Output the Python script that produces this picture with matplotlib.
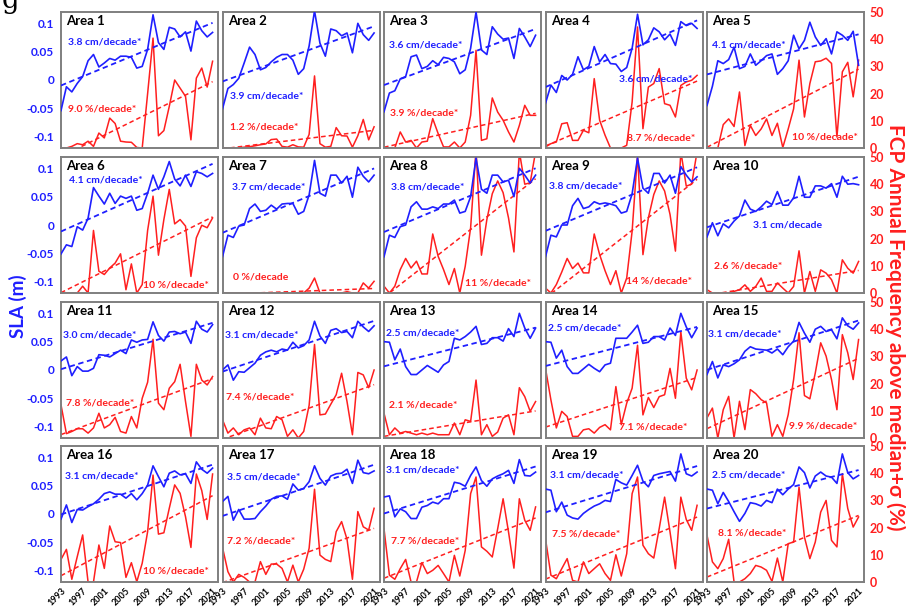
import numpy as np
import matplotlib
matplotlib.use("Agg")
import matplotlib.pyplot as plt

# ---------------- data ----------------
years = list(range(1993, 2022))
xtick_years = [1993, 1997, 2001, 2005, 2009, 2013, 2017, 2021]
area_names = [f"Area {i}" for i in range(1, 21)]

sla_a1 = [-0.054, -0.012, -0.021, -0.006, 0.006, 0.034, 0.045, 0.023, 0.030, 0.038, 0.035, 0.042, 0.042, 0.040, 0.021, 0.024, 0.054, 0.115, 0.066, 0.054, 0.093, 0.090, 0.076, 0.085, 0.051, 0.104, 0.087, 0.076, 0.084]
fcp_a1 = [0, 0, 0.6, 1.6, 1.2, 2.5, 0.6, 5.5, 3.7, 11, 9, 2.5, 2.2, 2.1, 0.2, 0, 20, 40.4, 4.5, 6.4, 15.3, 25, 22, 19, 3, 25.7, 29.4, 22.4, 31.9]
sla_a2 = [-0.051, -0.015, -0.008, 0.003, 0.030, 0.058, 0.045, 0.018, 0.022, 0.032, 0.040, 0.045, 0.045, 0.035, 0.010, 0.020, 0.060, 0.122, 0.065, 0.042, 0.090, 0.087, 0.078, 0.083, 0.048, 0.100, 0.080, 0.070, 0.083]
fcp_a2 = [0, 0, 0, 0, 0.3, 0.5, 0.8, 1.2, 1.5, 3.1, 3.3, 0.6, 0.3, 1.2, 0.4, 0.3, 5, 26.5, 1.6, 0.3, 0.6, 7.5, 4.5, 4.4, 0.3, 4.5, 10.5, 3, 7.8]
sla_a3 = [-0.056, -0.023, -0.019, 0.002, 0.006, 0.041, 0.044, 0.020, 0.024, 0.034, 0.027, 0.040, 0.038, 0.032, 0.011, 0.018, 0.056, 0.120, 0.053, 0.045, 0.094, 0.081, 0.072, 0.074, 0.038, 0.091, 0.076, 0.059, 0.079]
fcp_a3 = [0, 0, 0, 5.9, 2.2, 2.8, 0, 2.2, 2.5, 10.8, 5.3, 0.4, 0.4, 2.2, 0, 2.2, 12, 35.9, 2.8, 3.4, 18.4, 13.2, 10.2, 5.9, 2.2, 8.3, 15.7, 12, 12]
sla_a4 = [-0.041, -0.009, -0.022, 0.008, 0.000, 0.010, 0.041, 0.018, 0.024, 0.059, 0.032, 0.045, 0.029, 0.028, 0.015, 0.022, 0.056, 0.116, 0.062, 0.071, 0.092, 0.085, 0.071, 0.081, 0.061, 0.103, 0.096, 0.100, 0.091]
fcp_a4 = [0.4, 1.6, 2.2, 8.9, 9.3, 2.8, 2.8, 6.5, 5.6, 25.5, 10.2, 4.7, 0, 0, 0, 1, 16.9, 44.5, 7.1, 22.4, 23.7, 29.2, 16.3, 15.7, 11.4, 23, 24.3, 24.9, 26.7]
sla_a5 = [-0.045, -0.011, 0.034, 0.029, 0.036, 0.058, 0.020, 0.024, 0.046, 0.026, 0.034, 0.043, 0.046, 0.010, 0.020, 0.034, 0.079, 0.055, 0.070, 0.102, 0.076, 0.061, 0.073, 0.046, 0.085, 0.079, 0.070, 0.086, 0.026]
fcp_a5 = [0, 0, 0, 8.6, 10.7, 7.9, 20.6, 0.9, 8.3, 4.6, 7, 10.7, 4.6, 9.1, 0.2, 7, 14.4, 32.3, 11.4, 23.7, 31.7, 32, 33, 31.1, 4, 28, 31.5, 18.8, 32.3]
sla_a6 = [-0.051, -0.035, -0.038, -0.003, -0.009, 0.012, 0.066, 0.051, 0.037, 0.056, 0.038, 0.051, 0.047, 0.051, 0.026, 0.029, 0.056, 0.088, 0.063, 0.085, 0.112, 0.081, 0.069, 0.088, 0.068, 0.094, 0.091, 0.085, 0.091]
fcp_a6 = [0, 0, 0, 0, 2.5, 0, 23, 8, 6.8, 9.2, 11, 14.4, 1.2, 10.7, 0, 3.1, 23, 35.6, 13.9, 27, 38.1, 25.4, 27, 24.6, 6.1, 20.3, 24.9, 24, 27.6]
sla_a7 = [-0.056, -0.018, -0.022, -0.002, 0.000, 0.029, 0.037, 0.024, 0.026, 0.035, 0.028, 0.037, 0.038, 0.038, 0.019, 0.024, 0.053, 0.114, 0.056, 0.051, 0.088, 0.088, 0.074, 0.086, 0.049, 0.102, 0.086, 0.076, 0.088]
fcp_a7 = [0, 0, 0, 0, 0, 0, 0, 0, 0, 0, 0, 0, 0, 0, 0, 0, 1.8, 5.5, 0, 0, 0, 0, 0, 0.5, 0, 0, 3.7, 1.8, 4.3]
sla_a8 = [-0.056, -0.018, -0.022, -0.003, 0.000, 0.032, 0.041, 0.028, 0.028, 0.032, 0.029, 0.037, 0.037, 0.044, 0.021, 0.024, 0.050, 0.118, 0.063, 0.056, 0.088, 0.088, 0.076, 0.079, 0.050, 0.100, 0.088, 0.074, 0.088]
fcp_a8 = [2.5, 0, 2.5, 8.6, 12.7, 9.2, 11.7, 7, 7, 21.7, 13.5, 8.6, 3.1, 9, 0, 9.8, 24, 53, 13.9, 27, 36.5, 41.2, 36.9, 27.6, 15.1, 52, 40, 40.5, 52]
sla_a9 = [-0.056, -0.018, -0.021, 0.000, 0.000, 0.034, 0.047, 0.029, 0.032, 0.041, 0.037, 0.039, 0.037, 0.034, 0.021, 0.024, 0.055, 0.118, 0.065, 0.056, 0.091, 0.091, 0.074, 0.088, 0.056, 0.103, 0.088, 0.076, 0.085]
fcp_a9 = [1.8, 0, 3.1, 7.7, 12.7, 9, 11, 7.4, 7.4, 21.7, 14.1, 8.2, 3.1, 8.2, 0, 5.5, 22.7, 51, 14.1, 27.6, 36.2, 41.2, 37.5, 28.9, 15.4, 52, 39.3, 40, 52]
sla_a10 = [-0.021, 0.004, -0.019, 0.002, -0.005, 0.007, 0.016, 0.044, 0.028, 0.024, 0.032, 0.042, 0.036, 0.059, 0.035, 0.035, 0.048, 0.086, 0.049, 0.049, 0.069, 0.069, 0.065, 0.073, 0.049, 0.086, 0.072, 0.073, 0.071]
fcp_a10 = [1.2, 0, 0, 0, 0, 0.6, 1.2, 3, 0.6, 2.4, 5.5, 0.6, 0.6, 3.7, 1.8, 0, 2.4, 15.5, 0, 7.9, 0.6, 8.5, 7.3, 4.9, 0, 12.2, 9.1, 7.3, 11.6]
sla_a11 = [0.016, 0.023, -0.010, 0.006, -0.002, -0.002, 0.003, 0.027, 0.026, 0.023, 0.029, 0.035, 0.029, 0.053, 0.049, 0.053, 0.054, 0.085, 0.061, 0.051, 0.067, 0.068, 0.064, 0.067, 0.047, 0.086, 0.072, 0.067, 0.080]
fcp_a11 = [12.2, 1.6, 2.4, 3.4, 3.4, 1.8, 3.7, 9.1, 3.7, 4.9, 7.6, 2.4, 1.8, 7.9, 3.7, 14.6, 20.5, 36.3, 12.8, 10.4, 18.3, 20.7, 27.1, 13.4, 0.6, 27.1, 21.3, 19.5, 22.6]
sla_a12 = [0.000, 0.009, -0.018, -0.003, -0.004, 0.004, 0.012, 0.026, 0.032, 0.035, 0.032, 0.037, 0.035, 0.049, 0.039, 0.043, 0.053, 0.086, 0.060, 0.047, 0.070, 0.073, 0.066, 0.068, 0.057, 0.086, 0.076, 0.068, 0.078]
fcp_a12 = [6.7, 1.8, 3.7, 1.2, 3, 3.7, 1.2, 7.3, 3.7, 3.4, 7.9, 6.7, 0.6, 3, 0, 2.4, 12, 34.4, 8.5, 8.8, 12.4, 15.9, 23.8, 13.4, 1.2, 24.1, 23.2, 18.5, 25]
sla_a13 = [0.050, 0.049, 0.018, 0.037, 0.006, -0.008, -0.008, 0.000, 0.008, 0.002, -0.004, 0.009, 0.015, 0.056, 0.053, 0.059, 0.067, 0.077, 0.045, 0.047, 0.057, 0.057, 0.051, 0.073, 0.059, 0.100, 0.074, 0.056, 0.074]
fcp_a13 = [9.1, 1.2, 3.7, 1.8, 2.4, 1.8, 1.2, 1.8, 1.2, 1.8, 1.2, 1.2, 1.2, 5.5, 1.2, 6.7, 6.1, 21.3, 1.2, 4.9, 0.6, 2.2, 7.3, 8.5, 1.2, 18.5, 15.2, 9.8, 13.4]
sla_a14 = [0.050, 0.049, 0.021, 0.035, 0.006, -0.006, -0.006, 0.002, 0.010, 0.003, -0.003, 0.009, 0.012, 0.056, 0.056, 0.056, 0.067, 0.079, 0.047, 0.049, 0.059, 0.059, 0.053, 0.074, 0.061, 0.100, 0.076, 0.057, 0.074]
fcp_a14 = [25.6, 14, 3.7, 9.8, 7.9, 0.6, 0.6, 3, 3.4, 1.8, 3.9, 4.9, 3, 18.9, 4.9, 12.8, 18.3, 34.1, 8.5, 14.9, 11.2, 15.2, 15.9, 25.6, 14.6, 39, 22, 17.7, 25]
sla_a15 = [-0.008, 0.015, -0.014, 0.009, 0.006, 0.011, 0.018, 0.033, 0.041, 0.037, 0.036, 0.035, 0.030, 0.037, 0.027, 0.041, 0.051, 0.084, 0.065, 0.049, 0.072, 0.077, 0.068, 0.071, 0.055, 0.092, 0.078, 0.072, 0.083]
fcp_a15 = [7.4, 11, 0, 10.4, 15.3, 0, 13.5, 3.1, 17.8, 16.3, 14.1, 12.9, 0.6, 4.9, 0.6, 8.6, 21.5, 38.7, 15.6, 14.4, 23.9, 35, 30.1, 21.5, 10.4, 38, 31.3, 21.5, 36.2]
sla_a16 = [-0.009, 0.016, -0.015, 0.008, 0.007, 0.013, 0.018, 0.026, 0.036, 0.039, 0.035, 0.035, 0.028, 0.036, 0.025, 0.036, 0.051, 0.085, 0.066, 0.048, 0.072, 0.076, 0.069, 0.071, 0.054, 0.092, 0.079, 0.072, 0.081]
fcp_a16 = [8.3, 12, 1, 9.3, 17.3, 0, 0, 13.6, 5, 20.6, 14.8, 14.5, 1.7, 7.1, 0.1, 6.9, 18.5, 39.3, 17.6, 18.1, 27.1, 35.7, 32.6, 24, 12.7, 39.7, 33.6, 23, 39.7]
sla_a17 = [0.022, 0.031, -0.011, 0.008, -0.009, -0.009, -0.008, 0.004, 0.014, 0.026, 0.031, 0.032, 0.026, 0.053, 0.042, 0.045, 0.057, 0.085, 0.063, 0.051, 0.067, 0.071, 0.072, 0.079, 0.054, 0.095, 0.073, 0.071, 0.076]
fcp_a17 = [12.7, 3.8, 0, 2.8, 1.7, 0, 0, 7.5, 2.8, 6.6, 6.6, 5, 0, 6.2, 0, 4.7, 12.4, 34.1, 9.9, 8.3, 7.5, 18.5, 22.2, 15.7, 1, 25.9, 20.3, 19.1, 27.1]
sla_a18 = [0.030, 0.032, -0.005, 0.009, 0.004, -0.008, -0.008, 0.012, 0.015, 0.021, 0.018, 0.027, 0.027, 0.056, 0.054, 0.049, 0.068, 0.083, 0.059, 0.049, 0.062, 0.067, 0.071, 0.077, 0.054, 0.096, 0.068, 0.067, 0.074]
fcp_a18 = [19.6, 2.5, 1, 4.9, 8.3, 0, 0, 7.1, 3.1, 4.3, 6.1, 3.1, 0, 9.8, 2.2, 11.6, 32.5, 38.6, 12.9, 11.3, 9.2, 19.6, 30.6, 18.4, 5.1, 30.6, 22.7, 19, 27.6]
sla_a19 = [0.044, 0.042, 0.004, 0.021, -0.002, -0.007, -0.009, 0.001, 0.008, 0.014, 0.018, 0.024, 0.022, 0.061, 0.055, 0.051, 0.068, 0.086, 0.058, 0.048, 0.068, 0.071, 0.073, 0.075, 0.058, 0.106, 0.071, 0.067, 0.074]
fcp_a19 = [15.9, 2.5, 1.2, 4.9, 8.6, 0.6, 0, 7.4, 3.1, 4.9, 6.7, 3.1, 0.6, 10, 2.2, 10.4, 32.5, 38.6, 13.5, 10.4, 8.8, 19.6, 31.2, 18.4, 4.9, 31.2, 23, 19, 28.2]
sla_a20 = [0.044, 0.042, 0.018, 0.038, 0.022, 0.004, -0.013, 0.001, 0.020, 0.018, 0.014, 0.024, 0.020, 0.044, 0.034, 0.044, 0.052, 0.083, 0.073, 0.046, 0.067, 0.074, 0.067, 0.065, 0.054, 0.106, 0.073, 0.062, 0.068]
fcp_a20 = [17.2, 7.4, 4.9, 8.6, 15.7, 0, 0, 1.2, 3.1, 6.1, 5.5, 4.3, 0.2, 8.8, 0, 14.1, 14.7, 34.9, 16.5, 8.6, 14.7, 25.7, 30, 15.3, 12.9, 39.8, 27, 20.2, 23.9]

sla_trend_labels = ["3.8 cm/decade*", "3.9 cm/decade*", "3.6 cm/decade*", "3.6 cm/decade*", "4.1 cm/decade*",
                    "4.1 cm/decade*", "3.7 cm/decade*", "3.8 cm/decade*", "3.8 cm/decade*", "3.1 cm/decade",
                    "3.0 cm/decade*", "3.1 cm/decade*", "2.5 cm/decade*", "2.5 cm/decade*", "3.1 cm/decade*",
                    "3.1 cm/decade*", "3.5 cm/decade*", "3.1 cm/decade*", "3.1 cm/decade*", "2.5 cm/decade*"]
fcp_trend_labels = ["9.0 %/decade*", "1.2 %/decade*", "3.9 %/decade*", "8.7 %/decade*", "10 %/decade*",
                    "10 %/decade*", "0 %/decade", "11 %/decade*", "14 %/decade*", "2.6 %/decade*",
                    "7.8 %/decade*", "7.4 %/decade*", "2.1 %/decade*", "7.1 %/decade*", "9.9 %/decade*",
                    "10 %/decade*", "7.2 %/decade*", "7.7 %/decade*", "7.5 %/decade*", "8.1 %/decade*"]

sla_all = [sla_a1, sla_a2, sla_a3, sla_a4, sla_a5, sla_a6, sla_a7, sla_a8, sla_a9, sla_a10,
           sla_a11, sla_a12, sla_a13, sla_a14, sla_a15, sla_a16, sla_a17, sla_a18, sla_a19, sla_a20]
fcp_all = [fcp_a1, fcp_a2, fcp_a3, fcp_a4, fcp_a5, fcp_a6, fcp_a7, fcp_a8, fcp_a9, fcp_a10,
           fcp_a11, fcp_a12, fcp_a13, fcp_a14, fcp_a15, fcp_a16, fcp_a17, fcp_a18, fcp_a19, fcp_a20]

# ---------------- layout (axes-fraction text positions) ----------------
sla_text_pos = [(0.045, 0.78), (0.05, 0.38), (0.035, 0.76), (0.47, 0.51), (0.03, 0.76),
                (0.05, 0.83), (0.06, 0.78), (0.045, 0.78), (0.02, 0.79), (0.29, 0.50),
                (0.015, 0.76), (0.017, 0.76), (0.013, 0.77), (0.017, 0.81), (0.008, 0.765),
                (0.028, 0.78), (0.028, 0.77), (0.01, 0.82), (0.028, 0.79), (0.03, 0.79)]
fcp_text_pos = [(0.045, 0.29), (0.05, 0.155), (0.04, 0.26), (0.52, 0.07), (0.54, 0.08),
                (0.52, 0.06), (0.065, 0.12), (0.515, 0.07), (0.51, 0.09), (0.045, 0.20),
                (0.035, 0.26), (0.02, 0.30), (0.03, 0.24), (0.47, 0.08), (0.52, 0.09),
                (0.525, 0.08), (0.028, 0.30), (0.047, 0.30), (0.043, 0.35), (0.068, 0.36)]

BLUE = "#1f1fff"
RED = "#ff1f1f"
FRAME = "#7f7f7f"
FONT = ["Lato", "DejaVu Sans"]

W, H = 906, 612
fig = plt.figure(figsize=(W / 100, H / 100), dpi=100)
plt.rcParams['font.family'] = FONT

col_left = [61, 222.5, 384, 545.5, 707]
row_top = [12, 157, 302, 446]
pw, ph = 157, 136

x = np.array(years, dtype=float)
dash = (0, (3, 2))

for k in range(20):
    r, c = divmod(k, 5)
    rect = [col_left[c] / W, 1 - (row_top[r] + ph) / H, pw / W, ph / H]
    ax = fig.add_axes(rect)
    ax2 = ax.twinx()
    ax.set_zorder(ax2.get_zorder() + 1)
    ax.patch.set_visible(False)

    s = np.array(sla_all[k])
    f = np.array(fcp_all[k])
    # red FCP
    ax2.plot(x, f, color=RED, lw=1.1, zorder=2)
    pf = np.polyfit(x, f, 1)
    ax2.plot(x, np.polyval(pf, x), color=RED, lw=1.1, ls=dash, zorder=2)
    # blue SLA
    ax.plot(x, s, color=BLUE, lw=1.2, zorder=3)
    ps = np.polyfit(x, s, 1)
    ax.plot(x, np.polyval(ps, x), color=BLUE, lw=1.3, ls=dash, zorder=3)

    ax.set_xlim(1993, 2022)
    ax.set_ylim(-0.12, 0.12)
    ax2.set_ylim(0, 50)

    for a in (ax, ax2):
        for sp in a.spines.values():
            sp.set_color(FRAME)
            sp.set_linewidth(1.2)
        a.tick_params(length=0)

    ax.set_yticks([-0.1, -0.05, 0, 0.05, 0.1])
    ax2.set_yticks([0, 10, 20, 30, 40, 50])
    if c == 0:
        ax.set_yticklabels(["-0.1", "-0.05", "0", "0.05", "0.1"], color=BLUE,
                           fontweight="bold", fontsize=8.5)
        ax.tick_params(axis="y", pad=5)
    else:
        ax.set_yticklabels([])
    if c == 4:
        ax2.set_yticklabels(["0", "10", "20", "30", "40", "50"], color=RED,
                            fontweight="bold", fontsize=9)
        ax2.tick_params(axis="y", pad=4)
    else:
        ax2.set_yticklabels([])

    ax.set_xticks(xtick_years)
    if r == 3:
        ax.set_xticklabels([str(y) for y in xtick_years], rotation=45, ha="right",
                           rotation_mode="anchor", fontsize=6.5, fontweight="bold")
        ax.tick_params(axis="x", pad=3)
    else:
        ax.set_xticklabels([])

    ax.text(0.035, 0.935, area_names[k], transform=ax.transAxes, fontsize=9.5,
            fontweight="bold", color="black", va="center", ha="left", zorder=5)
    sx, sy = sla_text_pos[k]
    ax.text(sx, sy, sla_trend_labels[k], transform=ax.transAxes, fontsize=7.5,
            fontweight="bold", color=BLUE, va="center", ha="left", zorder=5)
    fx, fy = fcp_text_pos[k]
    ax.text(fx, fy, fcp_trend_labels[k], transform=ax.transAxes, fontsize=7.5,
            fontweight="bold", color=RED, va="center", ha="left", zorder=5)

fig.text(18 / W, 0.5, "SLA (m)", rotation=90, color=BLUE, fontsize=13.5,
         fontweight="bold", ha="center", va="center")
fig.text(895 / W, 1 - 327 / H, "FCP Annual Frequency above median+σ (%)", rotation=270,
         color=RED, fontsize=15, fontweight="bold", ha="center", va="center")
fig.text(0.002, 1.0, "g", fontsize=20, family="DejaVu Serif", ha="left", va="center")

fig.savefig("out.png", dpi=100)
